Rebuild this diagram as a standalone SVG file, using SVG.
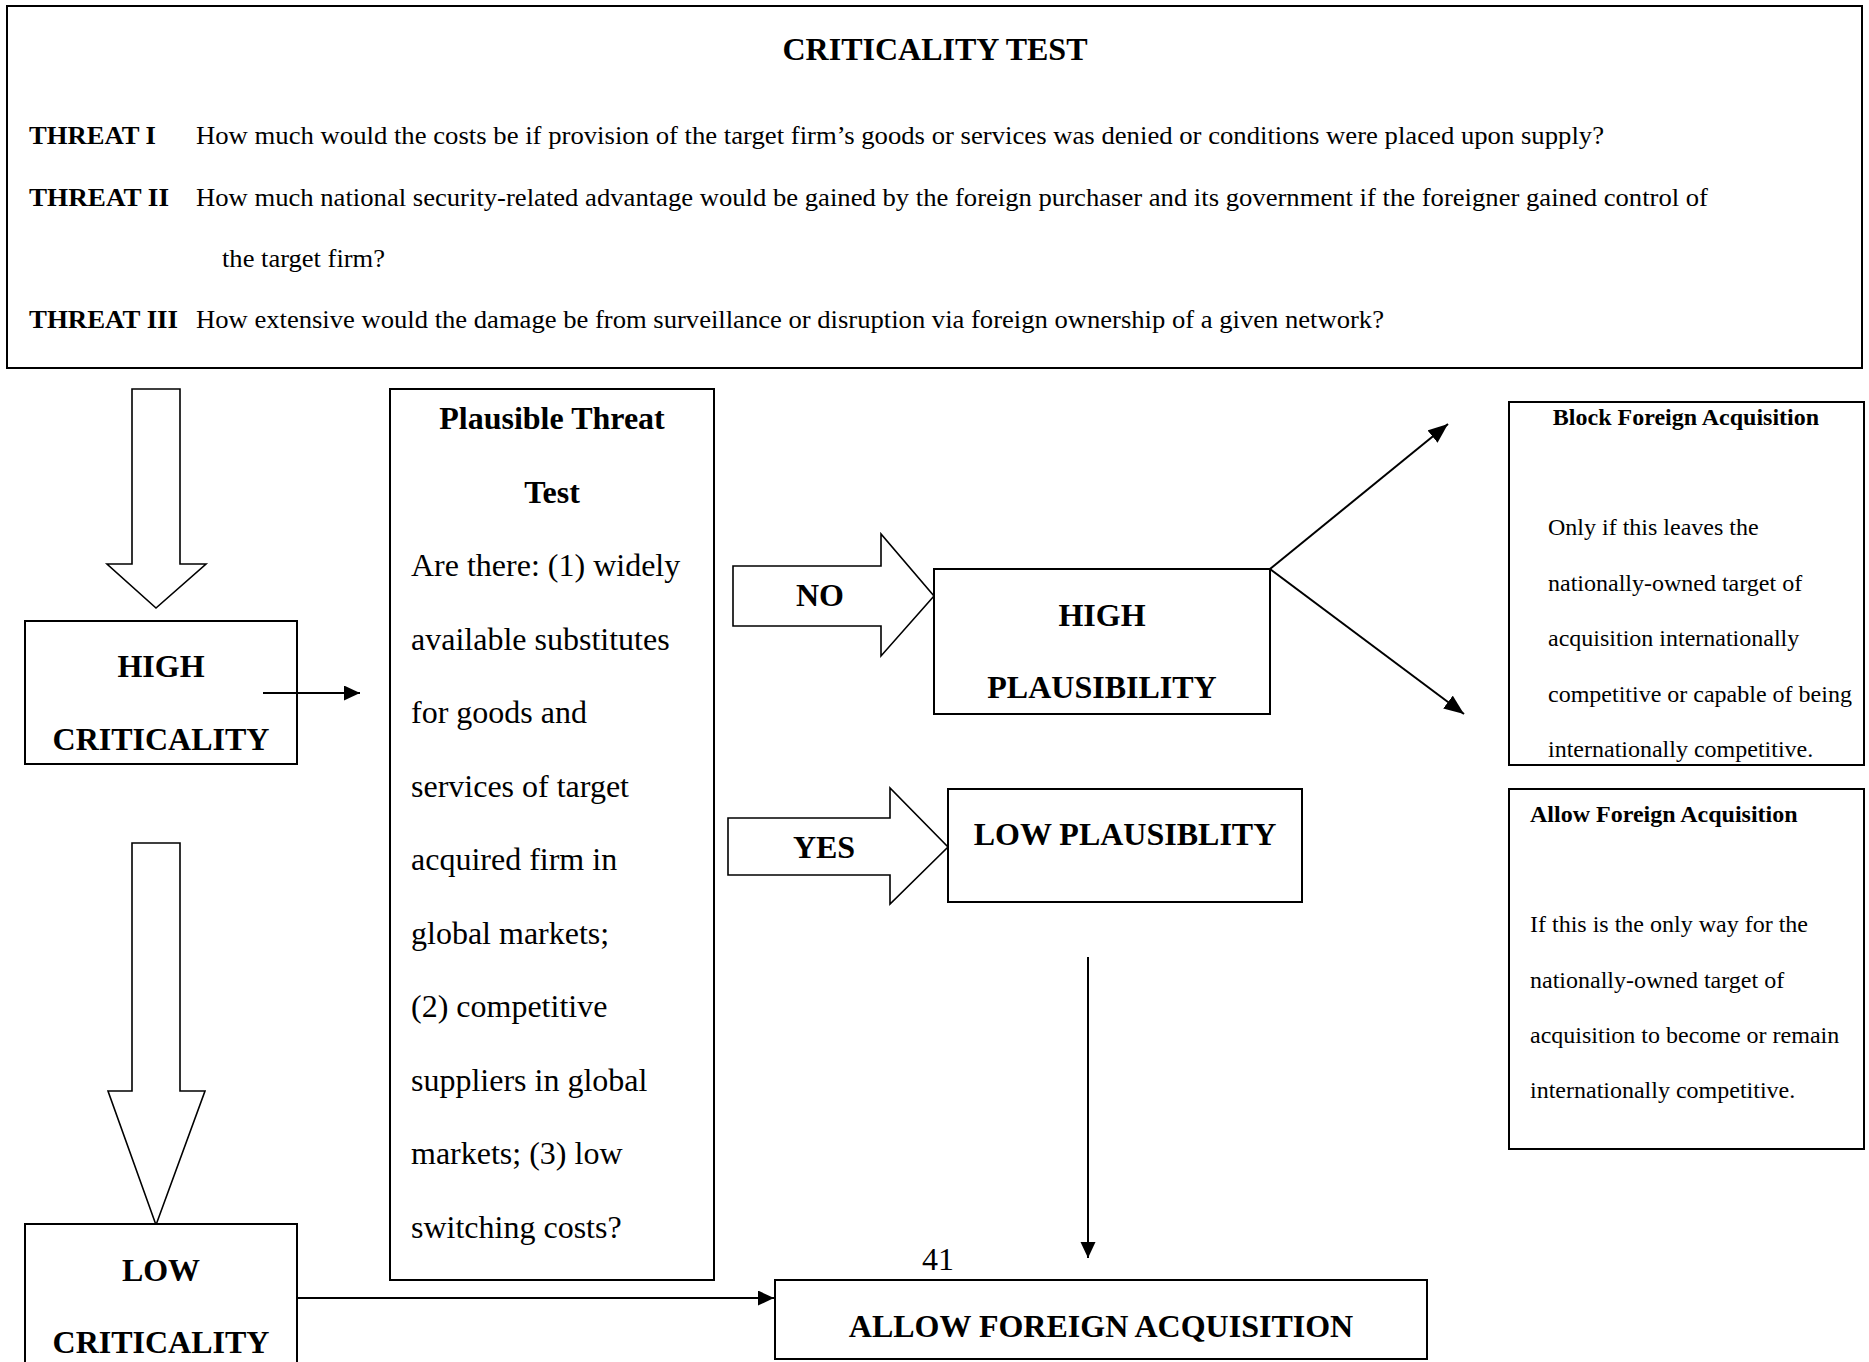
<svg xmlns="http://www.w3.org/2000/svg" width="1869" height="1362" viewBox="0 0 1869 1362">
<defs>
<style>
text{font-family:"Liberation Serif","Times New Roman",serif;fill:#000}
.b{font-weight:bold}
.t25{font-size:25px}
.t32{font-size:32px}
.t24{font-size:24px}
.box{fill:#fff;stroke:#000;stroke-width:2}
.blk{fill:#fff;stroke:#000;stroke-width:1.6;stroke-linejoin:miter}
.ln{fill:none;stroke:#000;stroke-width:2}
.mid{text-anchor:middle}
</style>
<marker id="ah" markerUnits="userSpaceOnUse" markerWidth="18" markerHeight="16" refX="16" refY="7.5" orient="auto">
<path d="M0,0 L16,7.5 L0,15 z" fill="#000"/>
</marker>
<marker id="ahL" markerUnits="userSpaceOnUse" markerWidth="22" markerHeight="18" refX="20" refY="8" orient="auto">
<path d="M0,0 L20,8 L0,16 z" fill="#000"/>
</marker>
</defs>
<rect width="1869" height="1362" fill="#fff"/>

<g id="criticality-test">
<rect class="box" x="7" y="6" width="1855" height="362"/>
<text class="b t32 mid" x="935" y="60">CRITICALITY TEST</text>
<text class="b t25" x="29" y="144" textLength="127" lengthAdjust="spacingAndGlyphs">THREAT I</text>
<text class="t25" x="196" y="144" textLength="1408" lengthAdjust="spacingAndGlyphs">How much would the costs be if provision of the target firm’s goods or services was denied or conditions were placed upon supply?</text>
<text class="b t25" x="29" y="206" textLength="140" lengthAdjust="spacingAndGlyphs">THREAT II</text>
<text class="t25" x="196" y="206" textLength="1512" lengthAdjust="spacingAndGlyphs">How much national security-related advantage would be gained by the foreign purchaser and its government if the foreigner gained control of</text>
<text class="t25" x="222" y="267" textLength="163" lengthAdjust="spacingAndGlyphs">the target firm?</text>
<text class="b t25" x="29" y="328" textLength="149" lengthAdjust="spacingAndGlyphs">THREAT III</text>
<text class="t25" x="196" y="328" textLength="1188" lengthAdjust="spacingAndGlyphs">How extensive would the damage be from surveillance or disruption via foreign ownership of a given network?</text>
</g>

<g id="arrow-high">
<polygon class="blk" points="132,389 180,389 180,564 206,564 156,608 107,564 132,564"/>
</g>

<g id="high-criticality">
<rect class="box" x="25" y="621" width="272" height="143"/>
<text class="b t32 mid" x="161" y="677">HIGH</text>
<text class="b t32 mid" x="161" y="750">CRITICALITY</text>
</g>

<g id="arrow-low">
<polygon class="blk" points="132,843 180,843 180,1091 205,1091 156,1225 108,1091 132,1091"/>
</g>

<g id="low-criticality">
<rect class="box" x="25" y="1224" width="272" height="160"/>
<text class="b t32 mid" x="161" y="1281">LOW</text>
<text class="b t32 mid" x="161" y="1353">CRITICALITY</text>
</g>

<g id="plausible-threat-test">
<rect class="box" x="390" y="389" width="324" height="891"/>
<text class="b t32 mid" x="552" y="429">Plausible Threat</text>
<text class="b t32 mid" x="552" y="503">Test</text>
<text class="t32" x="411" y="576">Are there: (1) widely</text>
<text class="t32" x="411" y="649.5">available substitutes</text>
<text class="t32" x="411" y="723">for goods and</text>
<text class="t32" x="411" y="796.5">services of target</text>
<text class="t32" x="411" y="870">acquired firm in</text>
<text class="t32" x="411" y="943.5">global markets;</text>
<text class="t32" x="411" y="1017">(2) competitive</text>
<text class="t32" x="411" y="1090.5">suppliers in global</text>
<text class="t32" x="411" y="1164">markets; (3) low</text>
<text class="t32" x="411" y="1237.5">switching costs?</text>
</g>

<g id="no-arrow">
<polygon class="blk" points="733,566 881,566 881,534 934,596 881,656 881,626 733,626"/>
<text class="b t32 mid" x="820" y="606">NO</text>
</g>

<g id="yes-arrow">
<polygon class="blk" points="728,818 890,818 890,788 948,847 890,904 890,875 728,875"/>
<text class="b t32 mid" x="824" y="858">YES</text>
</g>

<g id="high-plausibility">
<rect class="box" x="934" y="569" width="336" height="145"/>
<text class="b t32 mid" x="1102" y="626">HIGH</text>
<text class="b t32 mid" x="1102" y="698">PLAUSIBILITY</text>
</g>

<g id="low-plausibility">
<rect class="box" x="948" y="789" width="354" height="113"/>
<text class="b t32 mid" x="1125" y="845">LOW PLAUSIBLITY</text>
</g>

<g id="block-foreign-acquisition">
<rect class="box" x="1509" y="402" width="355" height="363"/>
<text class="b t24 mid" x="1686" y="425">Block Foreign Acquisition</text>
<text class="t24" x="1548" y="535">Only if this leaves the</text>
<text class="t24" x="1548" y="591">nationally-owned target of</text>
<text class="t24" x="1548" y="646">acquisition internationally</text>
<text class="t24" x="1548" y="702">competitive or capable of being</text>
<text class="t24" x="1548" y="757">internationally competitive.</text>
</g>

<g id="allow-foreign-acquisition-note">
<rect class="box" x="1509" y="789" width="355" height="360"/>
<text class="b t24" x="1530" y="822">Allow Foreign Acquisition</text>
<text class="t24" x="1530" y="932">If this is the only way for the</text>
<text class="t24" x="1530" y="988">nationally-owned target of</text>
<text class="t24" x="1530" y="1043">acquisition to become or remain</text>
<text class="t24" x="1530" y="1098">internationally competitive.</text>
</g>

<g id="allow-foreign-acquisition">
<rect class="box" x="775" y="1280" width="652" height="79"/>
<text class="b t32 mid" x="1101" y="1337">ALLOW FOREIGN ACQUISITION</text>
</g>

<text class="t32" x="922" y="1270">41</text>

<g id="connectors">
<line class="ln" x1="263" y1="693" x2="360" y2="693" marker-end="url(#ah)"/>
<line class="ln" x1="1270" y1="569" x2="1448" y2="424" marker-end="url(#ahL)"/>
<line class="ln" x1="1270" y1="569" x2="1464" y2="714" marker-end="url(#ahL)"/>
<line class="ln" x1="1088" y1="957" x2="1088" y2="1258" marker-end="url(#ah)"/>
<line class="ln" x1="297" y1="1298" x2="774" y2="1298" marker-end="url(#ah)"/>
</g>
</svg>
